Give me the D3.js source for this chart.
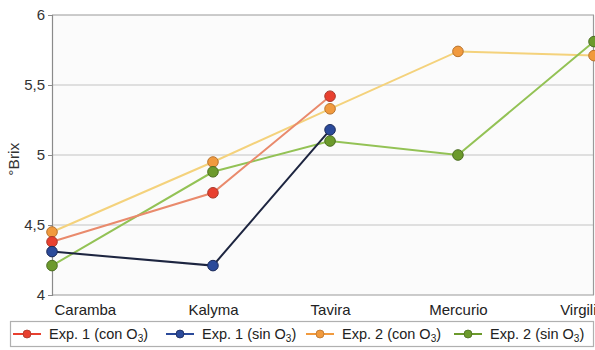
<!DOCTYPE html>
<html>
<head>
<meta charset="utf-8">
<script src="https://cdn.jsdelivr.net/npm/d3@7"></script>
<style>
  html, body { margin: 0; padding: 0; background: #ffffff; }
  svg { display: block; font-family: "Liberation Sans", Arial, sans-serif; }
</style>
</head>
<body>
<svg id="chart" width="595" height="350"></svg>
<script>
// Varieties along the x axis
const categories = ["Caramba", "Kalyma", "Tavira", "Mercurio", "Virgilio"];

// °Brix per variety and experiment (null where not measured)
const exp1Con = [4.38, 4.73, 5.42, null, null];
const exp1Sin = [4.31, 4.21, 5.18, null, null];
const exp2Con = [4.45, 4.95, 5.33, 5.74, 5.71];
const exp2Sin = [4.21, 4.88, 5.10, 5.00, 5.81];

// Y axis ticks
const yTicks = [4, 4.5, 5, 5.5, 6];
const yTickLabels = ["4", "4,5", "5", "5,5", "6"];

// Relative spacing of the varieties across the plot width
const categorySpacing = [0, 0.297, 0.513, 0.749, 1];

const series = [
  { name: "Exp. 1 (con ", values: exp1Con, line: "#e98a6c", fill: "#e8402f", stroke: "#a8392c" },
  { name: "Exp. 1 (sin ", values: exp1Sin, line: "#1d2540", fill: "#2b4a9a", stroke: "#1b2a5a" },
  { name: "Exp. 2 (con ", values: exp2Con, line: "#f4d27c", fill: "#f19a3e", stroke: "#b8742e" },
  { name: "Exp. 2 (sin ", values: exp2Sin, line: "#93c255", fill: "#6c9a2c", stroke: "#4c6e22" }
];

const svg = d3.select("#chart");
const margin = { left: 52, right: 1, top: 15, bottom: 55 };
const W = 595, H = 350;
const plotW = W - margin.left - margin.right;
const plotH = H - margin.top - margin.bottom;

const x = d3.scaleOrdinal()
  .domain(categories)
  .range(categorySpacing.map(f => margin.left + f * plotW));

const y = d3.scaleLinear()
  .domain([4, 6])
  .range([margin.top + plotH, margin.top]);

// Plot background
svg.append("rect")
  .attr("x", margin.left).attr("y", margin.top)
  .attr("width", plotW).attr("height", plotH)
  .attr("fill", "#fbfbfb");

// Horizontal gridlines
svg.append("g")
  .selectAll("line")
  .data(yTicks)
  .join("line")
  .attr("x1", margin.left).attr("x2", margin.left + plotW)
  .attr("y1", d => y(d)).attr("y2", d => y(d))
  .attr("stroke", d => d === 4 || d === 6 ? "#9a9a9a" : "#c4c4c4")
  .attr("stroke-width", 1.2);

// Right frame edge
svg.append("line")
  .attr("x1", margin.left + plotW - 0.5).attr("x2", margin.left + plotW - 0.5)
  .attr("y1", y(6)).attr("y2", y(4))
  .attr("stroke", "#9a9a9a").attr("stroke-width", 1.2);

// Y axis
const yAxis = d3.axisLeft(y)
  .tickValues(yTicks)
  .tickFormat((d, i) => yTickLabels[i])
  .tickSize(4)
  .tickPadding(3);
const gy = svg.append("g")
  .attr("transform", `translate(${margin.left},0)`)
  .call(yAxis);
gy.select(".domain").attr("stroke", "#8a8a8a").attr("stroke-width", 1.2);
gy.selectAll(".tick line").attr("stroke", "#8a8a8a");
gy.selectAll(".tick text")
  .attr("font-size", 15)
  .attr("fill", "#333")
  .attr("font-family", "Liberation Sans, Arial, sans-serif");

// X axis labels (the last one runs past the right edge)
const xAxis = d3.axisBottom(x).tickSize(0).tickPadding(9);
const gx = svg.append("g")
  .attr("transform", `translate(0,${y(4)})`)
  .call(xAxis);
gx.select(".domain").remove();
gx.selectAll(".tick text")
  .attr("font-size", 15)
  .attr("fill", "#222")
  .attr("font-family", "Liberation Sans, Arial, sans-serif")
  .attr("text-anchor", (d, i) => i === 0 ? "start" : "middle")
  .attr("dx", (d, i) => i === 0 ? 2 : (i === categories.length - 1 ? -12 : 0));

// Y axis title
svg.append("text")
  .attr("transform", `translate(19,${y(4.97)}) rotate(-90)`)
  .attr("text-anchor", "middle")
  .attr("font-size", 15.5)
  .attr("fill", "#333")
  .text("°Brix");

// Series lines and markers
const line = d3.line()
  .defined(d => d.v !== null)
  .x(d => x(d.c))
  .y(d => y(d.v));

const drawOrder = [2, 3, 0, 1];
drawOrder.forEach(k => {
  const s = series[k];
  const pts = categories.map((c, i) => ({ c, v: s.values[i] }));
  svg.append("path")
    .datum(pts)
    .attr("d", line)
    .attr("fill", "none")
    .attr("stroke", s.line)
    .attr("stroke-width", 2);
});
drawOrder.forEach(k => {
  const s = series[k];
  const pts = categories.map((c, i) => ({ c, v: s.values[i] })).filter(d => d.v !== null);
  svg.append("g")
    .selectAll("circle")
    .data(pts)
    .join("circle")
    .attr("cx", d => x(d.c))
    .attr("cy", d => y(d.v))
    .attr("r", 5.3)
    .attr("fill", s.fill)
    .attr("stroke", s.stroke)
    .attr("stroke-width", 1);
});

// Legend
const legend = svg.append("g");
legend.append("rect")
  .attr("x", 10.5).attr("y", 321.5)
  .attr("width", 583).attr("height", 25)
  .attr("fill", "#ffffff")
  .attr("stroke", "#b0b0b0")
  .attr("stroke-width", 1.2);

const legendX = [27, 180, 320, 468];
series.forEach((s, i) => {
  const g = legend.append("g").attr("transform", `translate(${legendX[i]},334)`);
  g.append("line")
    .attr("x1", -14).attr("x2", 14)
    .attr("stroke", s.fill).attr("stroke-width", 2);
  g.append("circle")
    .attr("r", 4)
    .attr("fill", s.fill)
    .attr("stroke", s.stroke)
    .attr("stroke-width", 0.8);
  const t = g.append("text")
    .attr("x", 22).attr("y", 5)
    .attr("font-size", 14.5)
    .attr("fill", "#222");
  t.append("tspan").text(s.name + "O");
  t.append("tspan").attr("font-size", 10).attr("dy", 3).text("3");
  t.append("tspan").attr("dy", -3).text(")");
});
</script>
</body>
</html>
